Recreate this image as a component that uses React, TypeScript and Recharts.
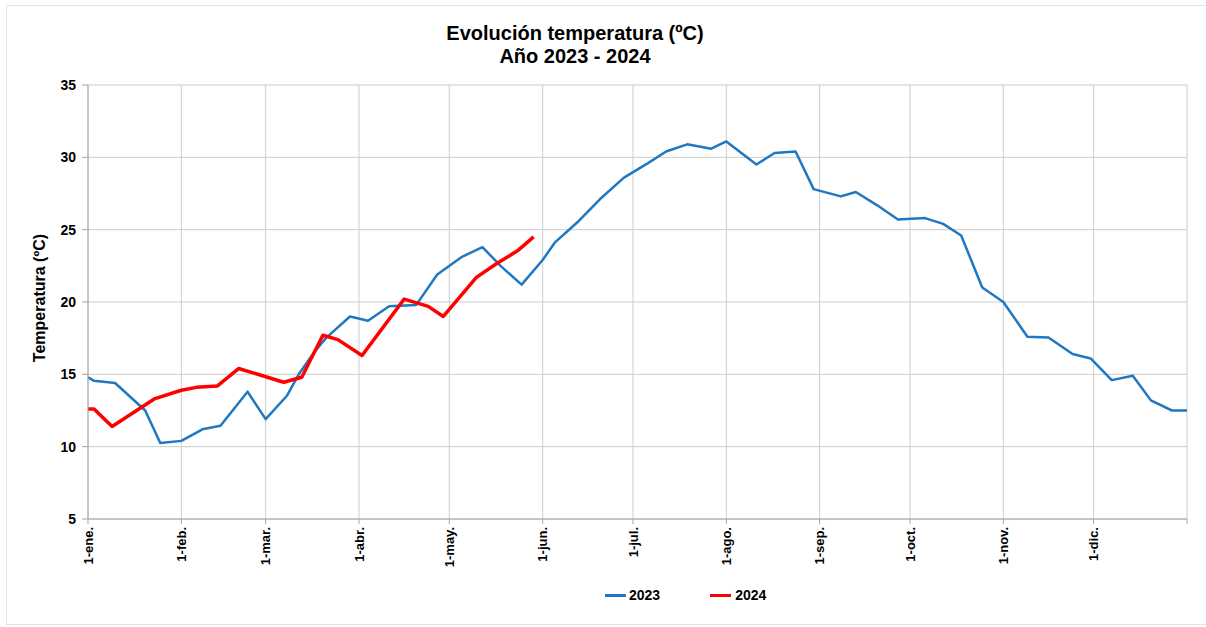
import React from "react"
import { LineChart, Line, XAxis, YAxis, CartesianGrid } from "recharts"

// día del año (0 = 1-ene.) y temperatura media semanal
const days2023 = [0, 2, 9, 19, 24, 31, 38, 44, 53, 59, 66, 70, 75, 79, 87, 93, 100, 109, 116, 124, 131, 137, 144, 151, 155, 163, 170, 178, 186, 192, 199, 207, 212, 222, 228, 235, 241, 250, 255, 262, 269, 278, 284, 290, 297, 304, 312, 319, 327, 333, 340, 347, 353, 360, 365]
const temps2023 = [14.8, 14.55, 14.4, 12.5, 10.25, 10.4, 11.2, 11.45, 13.8, 11.9, 13.5, 15.0, 16.5, 17.5, 19.0, 18.7, 19.7, 19.8, 21.9, 23.1, 23.8, 22.5, 21.2, 22.9, 24.1, 25.6, 27.1, 28.6, 29.6, 30.4, 30.9, 30.6, 31.1, 29.5, 30.3, 30.4, 27.8, 27.3, 27.6, 26.7, 25.7, 25.8, 25.4, 24.6, 21.0, 20.0, 17.6, 17.55, 16.4, 16.1, 14.6, 14.9, 13.2, 12.5, 12.5]

const days2024 = [0, 2, 8, 22, 31, 36, 43, 50, 58, 65, 71, 78, 83, 91, 105, 113, 118, 129, 136, 140, 143, 148]
const temps2024 = [12.6, 12.6, 11.4, 13.3, 13.9, 14.1, 14.2, 15.4, 14.9, 14.45, 14.8, 17.7, 17.4, 16.3, 20.2, 19.7, 19.0, 21.7, 22.7, 23.2, 23.6, 24.5]

const monthTicks = [0, 31, 59, 90, 120, 151, 181, 212, 243, 273, 304, 334, 365]
const monthLabels = ["1-ene.", "1-feb.", "1-mar.", "1-abr.", "1-may.", "1-jun.", "1-jul.", "1-ago.", "1-sep.", "1-oct.", "1-nov.", "1-dic.", ""]
const tempTicks = [5, 10, 15, 20, 25, 30, 35]

const data2023 = days2023.map((d, i) => ({ day: d, t: temps2023[i] }))
const data2024 = days2024.map((d, i) => ({ day: d, t: temps2024[i] }))

const FONT = '"Liberation Sans", Arial, Helvetica, sans-serif'
const BLUE = "#1F78C1"
const RED = "#FF0000"

const MonthTick = (props: any) => {
  const { x, y, payload } = props
  const i = monthTicks.indexOf(payload.value)
  return (
    <g transform={`translate(${x},${y})`}>
      <text transform="rotate(-90)" textAnchor="end" dy="0.35em" fontSize={13} fontWeight="bold" fill="#000" fontFamily={FONT}>
        {monthLabels[i]}
      </text>
    </g>
  )
}

export default function App() {
  return (
    <div style={{ position: "absolute", left: 0, top: 0, width: 1206, height: 627, background: "#fff", fontFamily: FONT, overflow: "hidden" }}>
      {/* marco suave */}
      <div style={{ position: "absolute", left: 6, top: 5, width: 1210, height: 620, border: "1px solid #e4e4e4", boxSizing: "border-box" }} />

      {/* título */}
      <div style={{ position: "absolute", left: 375, width: 400, top: 22, textAlign: "center", fontWeight: "bold", fontSize: 20, lineHeight: "23px", color: "#000" }}>
        Evolución temperatura (ºC)<br />Año 2023 - 2024
      </div>

      {/* etiqueta eje Y */}
      <div style={{ position: "absolute", left: 40, top: 298, width: 0, height: 0 }}>
        <div style={{ position: "absolute", left: -100, top: -10, width: 200, textAlign: "center", transform: "rotate(-90deg)", fontWeight: "bold", fontSize: 16, lineHeight: "20px", color: "#000" }}>
          Temperatura (ºC)
        </div>
      </div>

      <div style={{ position: "absolute", left: 0, top: 0 }}>
        <LineChart width={1206} height={627} margin={{ top: 85, right: 19, bottom: 38, left: 0 }}>
          <CartesianGrid stroke="#cccccc" strokeWidth={1} />
          <XAxis
            type="number"
            dataKey="day"
            domain={[0, 365]}
            ticks={monthTicks}
            interval={0}
            allowDuplicatedCategory={false}
            height={70}
            tickSize={5}
            tickMargin={3}
            axisLine={{ stroke: "#a6a6a6" }}
            tickLine={{ stroke: "#a6a6a6" }}
            tick={<MonthTick />}
          />
          <YAxis
            type="number"
            domain={[5, 35]}
            ticks={tempTicks}
            interval={0}
            width={88}
            tickSize={6}
            tickMargin={6}
            axisLine={{ stroke: "#a6a6a6" }}
            tickLine={{ stroke: "#a6a6a6" }}
            tick={{ fontSize: 14, fontWeight: "bold", fill: "#000", fontFamily: FONT }}
          />
          <Line data={data2023} dataKey="t" name="2023" type="linear" stroke={BLUE} strokeWidth={2.5} dot={false} activeDot={false} strokeLinejoin="round" isAnimationActive={false} />
          <Line data={data2024} dataKey="t" name="2024" type="linear" stroke={RED} strokeWidth={3.5} dot={false} activeDot={false} strokeLinejoin="round" isAnimationActive={false} />
        </LineChart>
      </div>

      {/* leyenda */}
      <div style={{ position: "absolute", left: 605, top: 587, display: "flex", alignItems: "center", fontWeight: "bold", fontSize: 14, color: "#000" }}>
        <span style={{ display: "inline-block", width: 21, height: 3, background: BLUE, marginRight: 3 }} />
        <span>2023</span>
        <span style={{ display: "inline-block", width: 21, height: 3, background: RED, marginLeft: 50, marginRight: 4 }} />
        <span>2024</span>
      </div>
    </div>
  )
}
